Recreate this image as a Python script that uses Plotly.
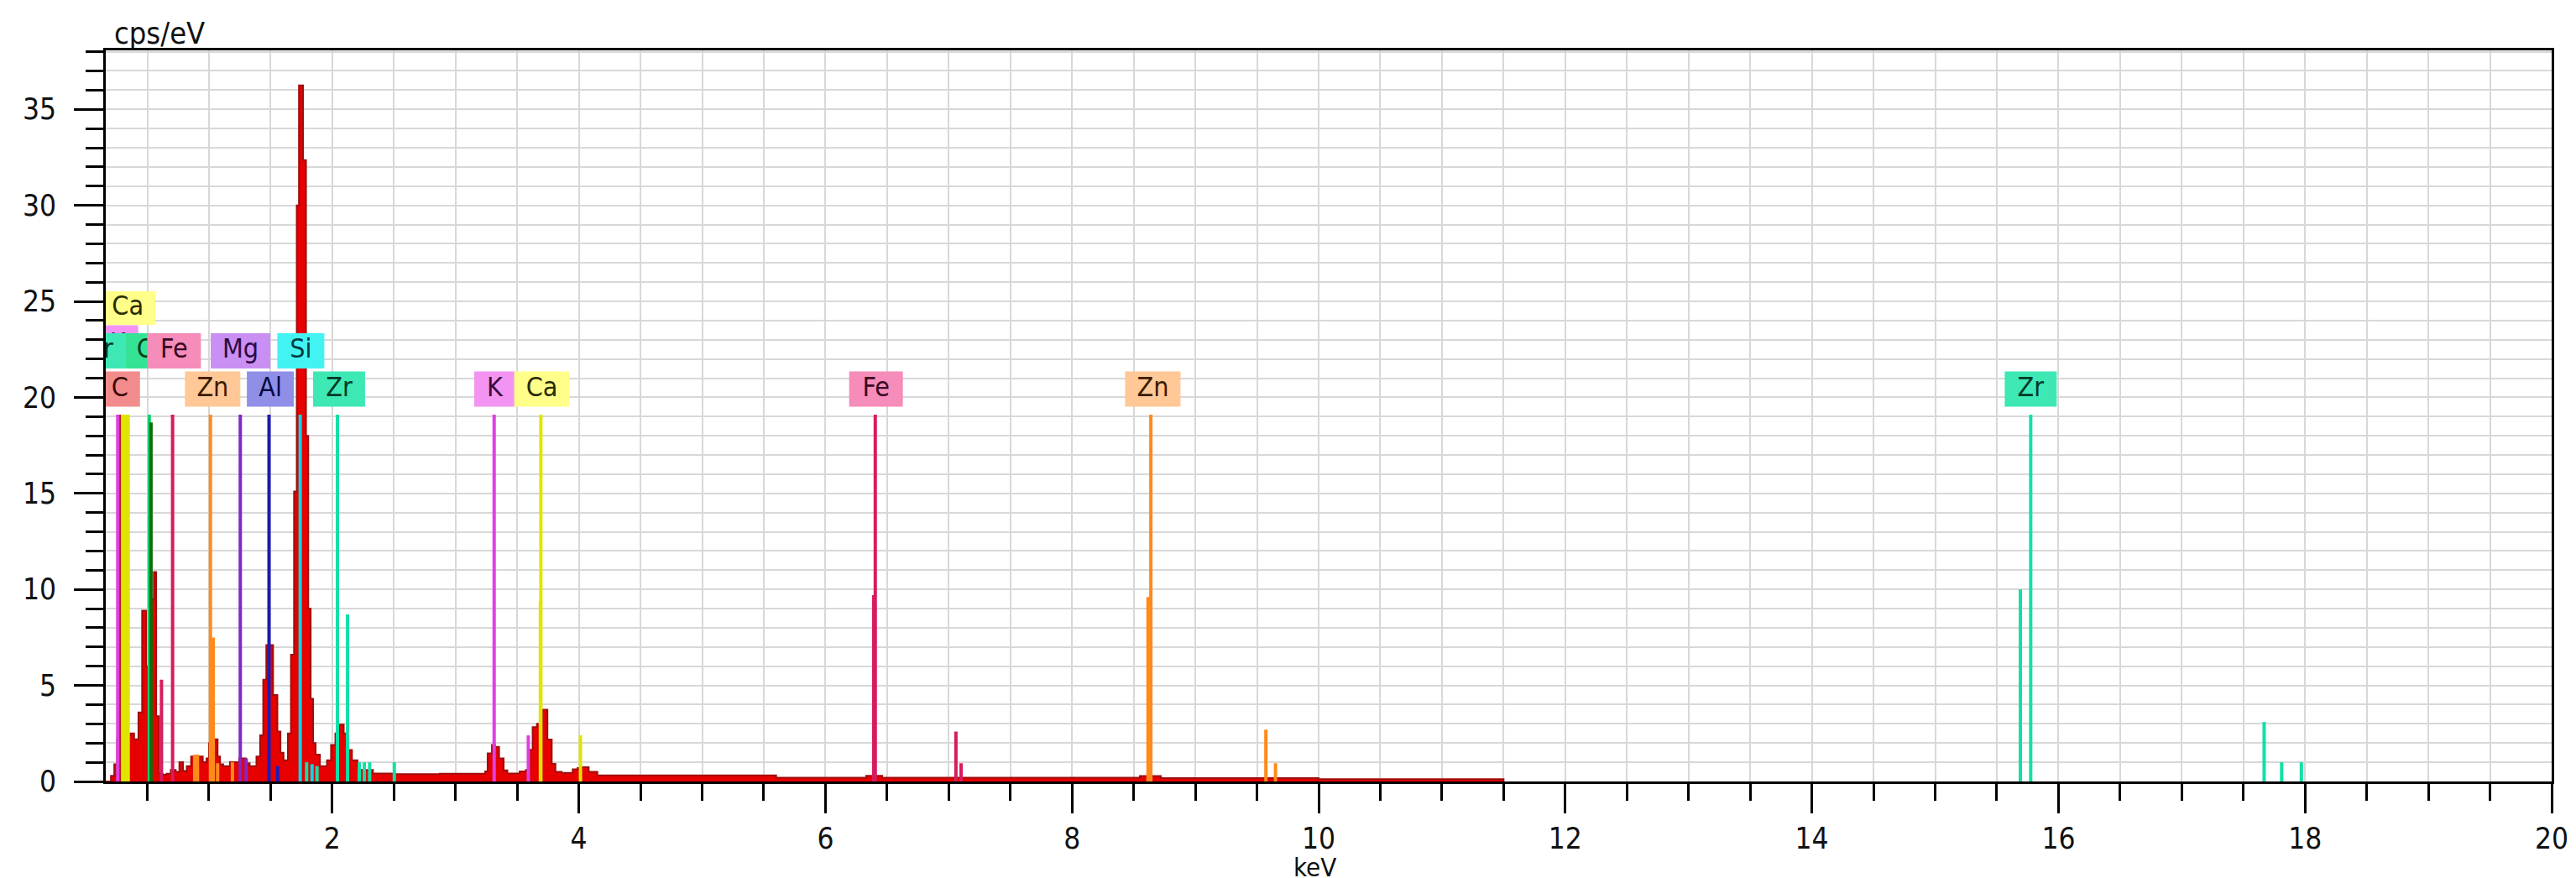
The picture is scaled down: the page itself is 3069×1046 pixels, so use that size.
import plotly.graph_objects as go

# ---------------- data ----------------
# EDS spectrum: bin start energy (keV) and counts (cps/eV), step histogram
spec_kev = [0.163, 0.205, 0.232, 0.255, 0.290, 0.362, 0.393, 0.428, 0.458, 0.490, 0.515,
            0.553, 0.572, 0.595, 0.625, 0.655, 0.690, 0.730, 0.760, 0.790, 0.820, 0.855,
            0.880, 0.920, 0.950, 0.980, 1.000, 1.045, 1.070, 1.090, 1.115, 1.170, 1.215,
            1.245, 1.280, 1.300, 1.330, 1.385, 1.415, 1.440, 1.465, 1.520, 1.555, 1.580,
            1.605, 1.640, 1.665, 1.690, 1.712, 1.730, 1.763, 1.787, 1.805, 1.825, 1.845,
            1.865, 1.900, 1.957, 1.990, 2.025, 2.054, 2.093, 2.127, 2.160, 2.205, 2.330,
            2.510, 2.870, 3.240, 3.260, 3.295, 3.320, 3.353, 3.390, 3.420, 3.520, 3.570,
            3.600, 3.625, 3.660, 3.700, 3.745, 3.780, 3.810, 3.860, 3.950, 3.990, 4.020,
            4.080, 4.150, 5.600, 6.330, 6.460, 8.550, 8.720, 10.00, 11.50]
spec_cps = [0.0, 0.30, 0.90, 2.20, 2.40, 2.50, 2.20, 3.60, 8.90, 6.00, 9.50,
            10.90, 3.40, 0.40, 0.35, 0.40, 0.60, 0.50, 1.00, 0.55, 0.80, 1.30,
            0.80, 1.30, 1.00, 1.20, 2.00, 2.20, 1.30, 0.90, 0.80, 1.00, 1.00,
            1.20, 1.20, 0.95, 0.80, 1.30, 2.40, 5.30, 7.10, 4.50, 2.60, 1.50,
            1.10, 2.50, 6.60, 15.10, 30.00, 36.25, 32.35, 18.00, 9.00, 4.30, 2.00,
            1.40, 0.80, 1.10, 1.90, 2.50, 2.96, 2.50, 1.64, 1.10, 0.60, 0.41,
            0.38, 0.40, 0.52, 1.46, 1.90, 1.80, 1.20, 0.58, 0.41, 0.52, 0.60,
            1.65, 2.83, 3.00, 3.74, 2.19, 0.92, 0.50, 0.45, 0.63, 0.70, 0.74,
            0.50, 0.32, 0.20, 0.30, 0.20, 0.28, 0.17, 0.12, 0.0]

# element marker lines (energy keV, marker height cps/eV)
C_kev = [0.277]
C_h = [19.1]
K_kev = [0.260, 3.313, 3.590]
K_h = [19.1, 19.1, 2.4]
Ca_kev = [0.300, 0.322, 0.345, 3.688, 3.692, 4.013]
Ca_h = [19.1, 19.1, 19.1, 9.4, 19.1, 2.4]
O_kev = [0.516]
O_h = [19.1]
O2_kev = [0.530]
O2_h = [18.7]
Fe_kev = [0.615, 0.705, 6.391, 6.404, 7.058, 7.100]
Fe_h = [5.3, 19.1, 9.7, 19.1, 2.6, 0.95]
Zn_kev = [0.884, 0.907, 1.012, 1.035, 1.070, 1.190, 8.616, 8.639, 9.572, 9.650]
Zn_h = [1.4, 1.4, 19.1, 7.5, 0.95, 1.0, 9.6, 19.1, 2.7, 0.95]
Mg_kev = [1.254, 1.302]
Mg_h = [19.1, 1.2]
Al_kev = [1.487, 1.557]
Al_h = [19.1, 0.8]
Si_kev = [1.740, 1.836]
Si_h = [19.1, 0.9]
Zr_kev = [1.792, 1.876, 2.042, 2.124, 2.219, 2.260, 2.303, 2.503,
          15.691, 15.775, 17.668, 17.810, 17.970]
Zr_h = [1.0, 0.8, 19.1, 8.7, 1.0, 1.0, 1.0, 1.0,
        10.0, 19.1, 3.1, 1.0, 1.0]

# element labels (drawing order matters: later ones cover earlier)
label_text = ["K", "Ca", "Zr", "O", "Fe", "Mg", "Si",
              "C", "Zn", "Al", "Zr", "K", "Ca", "Fe", "Zn", "Zr"]
label_kev = [0.260, 0.341, 0.115, 0.490, 0.717, 1.256, 1.745,
             0.277, 1.030, 1.498, 2.055, 3.318, 3.700, 6.410, 8.655, 15.775]
label_row = [2, 3, 1, 1, 1, 1, 1,
             0, 0, 0, 0, 0, 0, 0, 0, 0]

x_ticks_major = 2
y_ticks_major = 5

# ---------------- style ----------------
W, H = 3069, 1046
ML, MR, MT, MB = 118, 37, 52, 123
XMIN, XMAX = 0.163, 20.0
YMIN, YMAX = 0.0, 38.07
px_per_kev = (W - ML - MR) / (XMAX - XMIN)
px_per_cps = (H - MT - MB) / (YMAX - YMIN)

row_y = [20.43, 22.42, 22.75, 24.65]
row_box_h_px = [42, 42, 46, 40]
box_w_px = {"C": 48, "O": 48, "K": 49, "Fe": 64, "Zn": 66, "Mg": 71,
            "Si": 56, "Al": 56, "Zr": 62, "Ca": 66}

line_color = {"C": "#b81c1c", "K": "#e040e0", "Ca": "#e2e400", "O": "#10d070",
              "O2": "#0a6e0a", "Fe": "#d81b60", "Zn": "#ff8a1c", "Mg": "#8426c8",
              "Al": "#1c1cb4", "Si": "#00d8e8", "Zr": "#12e0a6"}
box_color = {"C": "#f28c8c", "O": "#34e394", "Fe": "#f58cba", "Zn": "#ffc896",
             "Mg": "#c98ff2", "Al": "#8f8fe8", "Si": "#43f2f2", "Zr": "#3ee8b4",
             "K": "#f394f3", "Ca": "#ffff8a"}
text_color = {"C": "#3a0a0a", "O": "#063a20", "Fe": "#3a0820", "Zn": "#3a1c00",
              "Mg": "#2c0a48", "Al": "#0a0a40", "Si": "#003a40", "Zr": "#003a28",
              "K": "#3a0a3a", "Ca": "#2a2a00"}

FONT = "Tahoma, 'DejaVu Sans Condensed', 'Liberation Sans', Arial, sans-serif"

fig = go.Figure()

# spectrum
fig.add_trace(go.Scatter(
    x=spec_kev, y=spec_cps, mode="lines",
    line=dict(shape="hv", color="#a00c0c", width=2),
    fill="tozeroy", fillcolor="#e60000", hoverinfo="skip", showlegend=False))


def add_lines(kev, h, color, width=4):
    xs, ys = [], []
    for e, v in zip(kev, h):
        xs += [e, e, None]
        ys += [0, v, None]
    fig.add_trace(go.Scatter(x=xs, y=ys, mode="lines",
                             line=dict(color=color, width=width),
                             hoverinfo="skip", showlegend=False))


add_lines(C_kev, C_h, line_color["C"])
add_lines(K_kev, K_h, line_color["K"])
add_lines(Ca_kev, Ca_h, line_color["Ca"])
add_lines(O_kev, O_h, line_color["O"])
add_lines(O2_kev, O2_h, line_color["O2"])
add_lines(Fe_kev, Fe_h, line_color["Fe"])
add_lines(Zn_kev, Zn_h, line_color["Zn"])
add_lines(Mg_kev, Mg_h, line_color["Mg"])
add_lines(Al_kev, Al_h, line_color["Al"])
add_lines(Si_kev, Si_h, line_color["Si"])
add_lines(Zr_kev, Zr_h, line_color["Zr"])

# labels: box + text, clipped by the plot area
for t, e, r in zip(label_text, label_kev, label_row):
    yc = row_y[r]
    hw = box_w_px[t] / 2 / px_per_kev
    hh = row_box_h_px[r] / 2 / px_per_cps
    fig.add_trace(go.Scatter(
        x=[e - hw, e + hw, e + hw, e - hw, e - hw],
        y=[yc - hh, yc - hh, yc + hh, yc + hh, yc - hh],
        mode="lines", fill="toself", fillcolor=box_color[t],
        line=dict(width=0, color=box_color[t]),
        hoverinfo="skip", showlegend=False))
    fig.add_trace(go.Scatter(
        x=[e], y=[yc], mode="text", text=[t], textposition="middle center",
        textfont=dict(family=FONT, size=32, color=text_color[t]),
        hoverinfo="skip", showlegend=False, cliponaxis=True))

axis_common = dict(
    showline=True, linecolor="black", linewidth=3, mirror=True,
    ticks="outside", tickcolor="black", tickwidth=3, ticklen=35,
    showgrid=True, gridcolor="#d8d8d8", gridwidth=2, zeroline=False,
    tickfont=dict(family=FONT, size=35, color="#111111"),
)

fig.update_xaxes(range=[XMIN, XMAX], tick0=0, dtick=x_ticks_major,
                 minor=dict(dtick=0.5, tick0=0, ticks="outside", ticklen=20,
                            tickwidth=3, tickcolor="black", showgrid=True,
                            gridcolor="#d8d8d8", gridwidth=2),
                 ticklabelstandoff=0,
                 **axis_common)
fig.update_yaxes(range=[YMIN, YMAX], tick0=0, dtick=y_ticks_major,
                 minor=dict(dtick=1, tick0=0, ticks="outside", ticklen=21,
                            tickwidth=3, tickcolor="black", showgrid=True,
                            gridcolor="#d8d8d8", gridwidth=2),
                 ticklabelstandoff=14,
                 **axis_common)

fig.add_annotation(text="cps/eV", xref="paper", yref="paper", x=0, y=1,
                   xanchor="left", yanchor="bottom", xshift=8, yshift=-2,
                   showarrow=False, font=dict(family=FONT, size=36, color="#111111"))
fig.add_annotation(text="keV", xref="x", yref="paper", x=9.97, y=0,
                   xanchor="center", yanchor="middle", yshift=-102,
                   showarrow=False, font=dict(family=FONT, size=31, color="#111111"))

fig.update_layout(
    width=W, height=H,
    margin=dict(l=ML, r=MR, t=MT, b=MB, pad=0),
    paper_bgcolor="white", plot_bgcolor="white",
    showlegend=False,
)

fig.write_html("out.html")
